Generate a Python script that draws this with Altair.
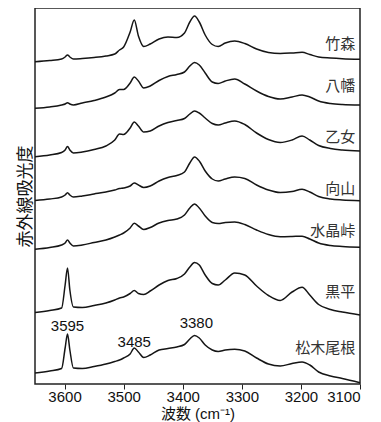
import altair as alt
import pandas as pd

# Wavenumber grid (cm-1), shared by all spectra
wavenumbers = [3650, 3625, 3605, 3599, 3595, 3591, 3585, 3570, 3550, 3530, 3515, 3507, 3500,
               3489, 3482, 3475, 3466, 3455, 3440, 3425, 3410, 3397, 3388, 3380, 3372, 3362,
               3350, 3340, 3328, 3312, 3295, 3275, 3255, 3235, 3215, 3198, 3185, 3170, 3150,
               3130, 3100]

# Stacked absorbance (arbitrary units, offset per sample)
takemori = [322.3, 323.5, 325, 327, 329, 327, 325, 325.5, 326.5, 328, 330, 334, 337, 352, 364, 348,
            337.5, 340, 345, 347, 346.5, 351, 362, 368, 362, 349, 339.5, 337.5, 341, 343, 340.5,
            335, 331.5, 330.5, 331, 331.7, 329.5, 327, 326, 325.3, 324.7]
yawata = [275.7, 277, 279, 280, 281.3, 280, 279, 281, 283.5, 287, 291, 294.5, 294.5, 301, 307, 303,
          296, 298, 303.5, 307.5, 309.5, 312, 318, 321.5, 319, 311, 302, 300.5, 303, 305, 300, 293,
          287.5, 285, 287, 289, 287, 283, 280.5, 279.5, 279]
otome = [227.3, 229, 231.5, 234, 237.5, 234, 231, 232, 234.5, 238, 244, 250, 249.5, 256, 262, 258,
         252, 253, 258, 261.5, 263.5, 265.5, 270, 273, 271, 266, 260.5, 259, 261, 263, 259.5, 251,
         244.5, 241.5, 244, 248, 244, 238.5, 235.5, 234, 233]
mukaiyama = [183.5, 185, 187, 189, 191.3, 189, 187, 188, 190, 192, 194, 195.5, 196, 198, 201, 199,
             196.5, 198, 203, 206.5, 208.5, 212, 221, 227, 223, 213, 205, 203, 205, 207, 205.5, 199,
             194, 191.5, 192.5, 194.7, 192, 187.5, 185, 184, 183.3]
suishotoge = [134.7, 136.5, 139, 141, 144, 141, 138, 139, 141.5, 144, 147, 149, 151, 156, 160.7, 158,
              154.5, 156.5, 161, 163.5, 165, 169, 176, 180, 176, 168, 161.5, 160.5, 161.5, 162,
              159.5, 154, 149.5, 147.3, 147.5, 147.8, 145, 141, 138.5, 137.5, 136.7]
kurobera = [71.5, 73.5, 76, 99, 116, 94, 77, 76.5, 78.5, 81, 84, 86, 87, 90.5, 93.5, 90.5, 89.5, 93,
            99, 103.5, 105.5, 110, 117, 121.5, 119, 109, 100.5, 99, 104, 111, 109, 98, 88.5, 83.5,
            92, 96.8, 89, 79.5, 74.5, 72, 69]
matsukione = [11, 13, 15.5, 36, 50, 34, 16, 15.5, 17.5, 20, 22.5, 24, 26, 30, 36, 32, 26.5, 29, 34,
              35.5, 37, 39.5, 45, 48.5, 46, 39, 34, 32.5, 34, 34.7, 33, 26, 20, 18, 20.5, 22, 19,
              12, 8, 5.5, 1.3]

samples = ["竹森", "八幡", "乙女", "向山", "水晶峠", "黒平", "松木尾根"]
series = [takemori, yawata, otome, mukaiyama, suishotoge, kurobera, matsukione]

# Sample label positions (wavenumber, stacked absorbance)
label_wn = [3108] * 7
label_y = [340, 298.5, 247.5, 195.5, 153.5, 92.5, 36]

# Peak annotations
peak_text = ["3595", "3485", "3380"]
peak_wn = [3595, 3482, 3377]
peak_y = [58.5, 42.5, 61.5]

rows = []
for name, vals in zip(samples, series):
    for w, v in zip(wavenumbers, vals):
        rows.append({"wn": w, "a": v, "sample": name})
df = pd.DataFrame(rows)
labels_df = pd.DataFrame({"wn": label_wn, "a": label_y, "sample": samples})
peaks_df = pd.DataFrame({"wn": peak_wn, "a": peak_y, "text": peak_text})

FONT = "Liberation Sans, Arial, Noto Sans CJK JP, sans-serif"

x_scale = alt.Scale(domain=[3100, 3650], reverse=True, nice=False, zero=False)
y_scale = alt.Scale(domain=[0, 376], nice=False, zero=False)

x_axis = alt.Axis(
    title="波数 (cm⁻¹)",
    values=list(range(3100, 3651, 50)),
    labelExpr="datum.value % 100 === 0 ? format(datum.value, 'd') : ''",
    tickSize={"condition": {"test": "datum.value % 100 === 0", "value": 5}, "value": 3},
    tickColor="#222",
    tickWidth=1,
    domain=False,
    grid=False,
    labelFontSize=15,
    labelColor="#111",
    labelPadding=0,
    titleFontSize=15,
    titleFontWeight="normal",
    titleColor="#111",
    titlePadding=2,
    labelFont=FONT,
    titleFont=FONT,
)
y_axis = alt.Axis(
    title="赤外線吸光度",
    labels=False,
    ticks=False,
    domain=False,
    grid=False,
    titleFontSize=17,
    titleFontWeight="normal",
    titleColor="#111",
    titlePadding=1,
    titleFont=FONT,
)

lines = alt.Chart(df).mark_line(interpolate="monotone", color="#151515", strokeWidth=1.5).encode(
    x=alt.X("wn:Q", scale=x_scale, axis=x_axis),
    y=alt.Y("a:Q", scale=y_scale, axis=y_axis),
    detail="sample:N",
    order="wn:Q",
)

labels = alt.Chart(labels_df).mark_text(
    align="right", baseline="middle", fontSize=15, color="#333", font=FONT
).encode(x=alt.X("wn:Q", scale=x_scale), y=alt.Y("a:Q", scale=y_scale), text="sample:N")

peaks = alt.Chart(peaks_df).mark_text(
    align="center", baseline="middle", fontSize=15, color="#111", font=FONT
).encode(x=alt.X("wn:Q", scale=x_scale), y=alt.Y("a:Q", scale=y_scale), text="text:N")

chart = (
    alt.layer(lines, labels, peaks)
    .properties(width=325, height=376, padding={"left": 8, "top": 0, "right": 2, "bottom": 2})
    .configure_view(stroke="#222", strokeWidth=1.5)
)

chart.save("out.html", embed_options={"renderer": "svg", "actions": False})
